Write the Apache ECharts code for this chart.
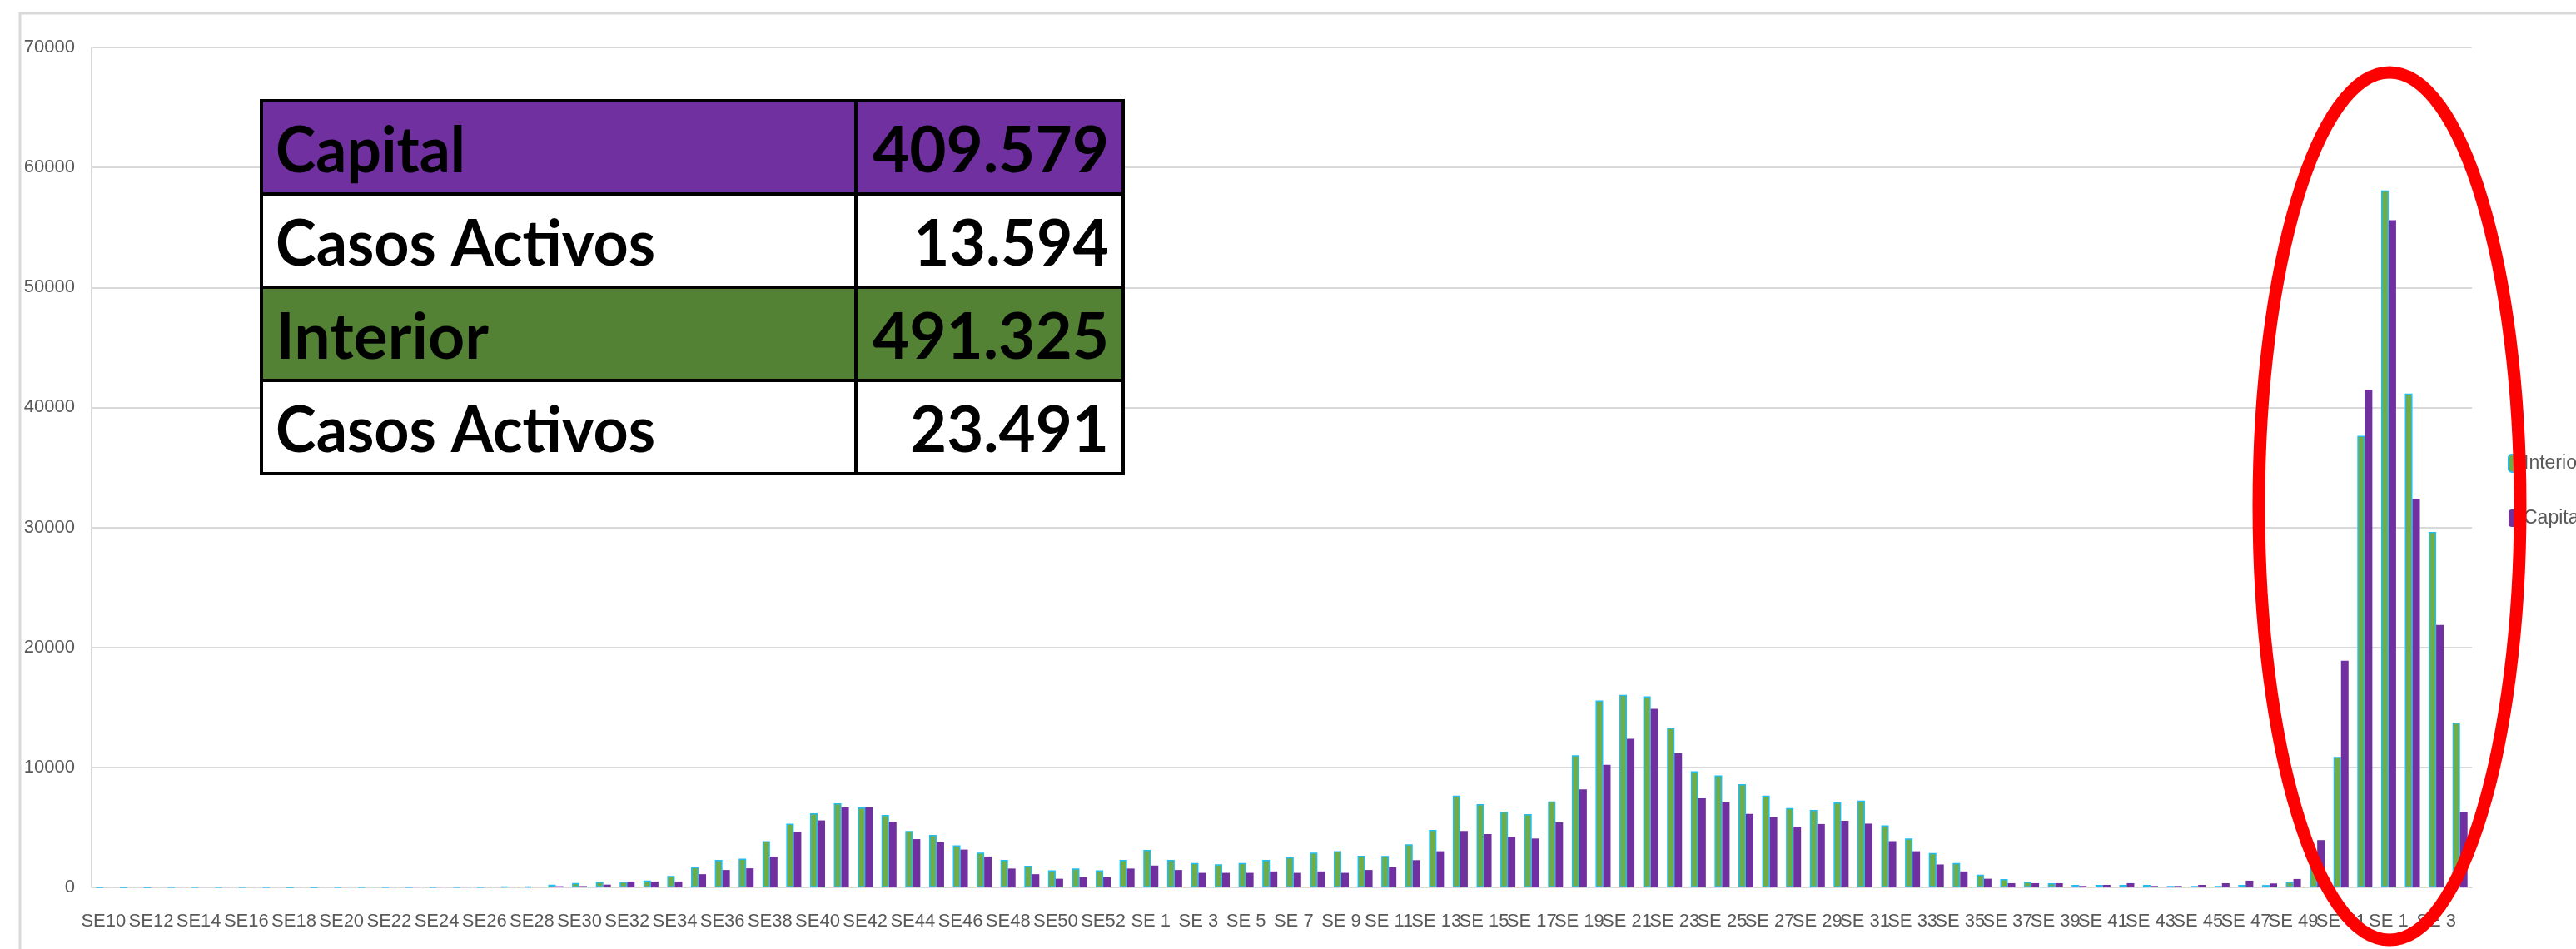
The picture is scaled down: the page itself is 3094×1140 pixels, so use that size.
<!DOCTYPE html>
<html>
<head>
<meta charset="utf-8">
<script src="https://cdn.jsdelivr.net/npm/echarts@6/dist/echarts.min.js"></script>
<style>
html,body{margin:0;padding:0;background:#fff;}
#chart{width:3094px;height:1140px;}
</style>
</head>
<body>
<div id="chart"></div>
<script>
// ---- data ----
const categories = [
  'SE10','SE11','SE12','SE13','SE14','SE15','SE16','SE17','SE18','SE19','SE20','SE21','SE22','SE23','SE24','SE25','SE26','SE27','SE28','SE29','SE30','SE31','SE32','SE33','SE34','SE35','SE36','SE37','SE38','SE39','SE40','SE41','SE42','SE43','SE44','SE45','SE46','SE47','SE48','SE49','SE50','SE51','SE52','SE53',
  'SE 1','SE 2','SE 3','SE 4','SE 5','SE 6','SE 7','SE 8','SE 9','SE 10','SE 11','SE 12','SE 13','SE 14','SE 15','SE 16','SE 17','SE 18','SE 19','SE 20','SE 21','SE 22','SE 23','SE 24','SE 25','SE 26','SE 27','SE 28','SE 29','SE 30','SE 31','SE 32','SE 33','SE 34','SE 35','SE 36','SE 37','SE 38','SE 39','SE 40','SE 41','SE 42','SE 43','SE 44','SE 45','SE 46','SE 47','SE 48','SE 49','SE 50','SE 51','SE 52',
  'SE 1','SE 2','SE 3','SE 4'
];
const interior = [
  5,10,15,20,25,25,20,20,15,15,20,20,25,30,30,30,40,60,80,
  230,370,470,490,580,960,1700,2290,2400,3850,5300,6170,7010,6660,6030,4700,4370,3500,2900,2290,1800,1430,1570,1430,2290,
  3130,2290,2030,1920,2030,2290,2520,2900,3010,2640,2620,3590,4790,7640,6940,6320,6110,7170,11020,15580,16040,15930,13310,9680,9330,8610,7640,6600,6460,7080,7230,5170,4080,2870,2030,1050,700,470,350,210,210,210,210,120,120,120,210,200,460,2700,10870,37630,
  58090,41160,29630,13730
];
const capital = [
  3,5,10,15,15,15,10,10,10,10,15,20,20,30,30,30,30,40,60,
  100,110,230,490,490,490,1100,1450,1590,2570,4600,5580,6680,6660,5470,4020,3760,3150,2570,1570,1100,720,860,860,1570,
  1820,1450,1210,1210,1210,1330,1210,1330,1210,1450,1690,2270,3010,4700,4440,4210,4070,5420,8170,10210,12380,14880,11180,7430,7080,6130,5860,5050,5280,5550,5310,3850,3010,1910,1330,720,350,350,350,120,210,350,120,120,210,350,560,330,700,3940,18880,41490,
  55600,32400,21870,6270
];
const seriesNames = ['Interior', 'Capital'];
const tableLabels = ['Capital', 'Casos Activos', 'Interior', 'Casos Activos'];
const tableValues = ['409.579', '13.594', '491.325', '23.491'];

// ---- layout/style ----
const AXIS_FONT = "'Liberation Sans', Arial, sans-serif";
const TABLE_FONT_FAMILY = "Lato, 'Open Sans', sans-serif";
const TABLE_FONT_SIZE = 76;
const rowTops = [121, 233, 345, 457, 569];
const rowFills = ['#7030A0', '#ffffff', '#548235', '#ffffff'];
const labelTargetW = [228, 456, 256, 456];
const valueTargetW = [284, 235, 284, 239];
const tableLeft = 314, tableRight = 1349, tableMid = 1028;

const mctx = document.createElement('canvas').getContext('2d');
function fitScale(text, target) {
  mctx.font = 'bold ' + TABLE_FONT_SIZE + 'px ' + TABLE_FONT_FAMILY;
  return target / mctx.measureText(text).width;
}

const graphics = [];
graphics.push({
  type: 'polyline', z: -1,
  shape: { points: [[24, 1140], [24, 16], [3094, 16]] },
  style: { stroke: '#d9d9d9', lineWidth: 3, fill: null }
});
for (let r = 0; r < 4; r++) {
  const y0 = rowTops[r], y1 = rowTops[r + 1];
  graphics.push({
    type: 'rect', z: 50,
    shape: { x: tableLeft, y: y0, width: tableMid - tableLeft, height: y1 - y0 },
    style: { fill: rowFills[r], stroke: '#000', lineWidth: 4 }
  });
  graphics.push({
    type: 'rect', z: 50,
    shape: { x: tableMid, y: y0, width: tableRight - tableMid, height: y1 - y0 },
    style: { fill: rowFills[r], stroke: '#000', lineWidth: 4 }
  });
  const cy = (y0 + y1) / 2 + 5;
  graphics.push({
    type: 'text', z: 51, x: 331, y: cy,
    scaleX: fitScale(tableLabels[r], labelTargetW[r]),
    style: {
      text: tableLabels[r], x: 0, y: 0, fill: '#000',
      font: 'bold ' + TABLE_FONT_SIZE + 'px ' + TABLE_FONT_FAMILY,
      textAlign: 'left', textVerticalAlign: 'middle'
    }
  });
  graphics.push({
    type: 'text', z: 51, x: 1332, y: cy,
    scaleX: fitScale(tableValues[r], valueTargetW[r]),
    style: {
      text: tableValues[r], x: 0, y: 0, fill: '#000',
      font: 'bold ' + TABLE_FONT_SIZE + 'px ' + TABLE_FONT_FAMILY,
      textAlign: 'right', textVerticalAlign: 'middle'
    }
  });
}
graphics.push({
  type: 'ellipse', z: 100,
  shape: { cx: 2870, cy: 608, rx: 157, ry: 521 },
  style: { fill: null, stroke: '#ff0000', lineWidth: 15 }
});

const chart = echarts.init(document.getElementById('chart'), null, { renderer: 'canvas' });
chart.setOption({
  animation: false,
  backgroundColor: '#ffffff',
  grid: { left: 110, right: 125, top: 57, bottom: 74, containLabel: false },
  legend: {
    orient: 'vertical', left: 3007, top: 540,
    itemWidth: 16, itemHeight: 21, itemGap: 43,
    data: seriesNames,
    textStyle: { fontSize: 23, color: '#595959', fontFamily: AXIS_FONT, padding: [0, 0, 0, -3] }
  },
  xAxis: {
    type: 'category', data: categories,
    axisTick: { show: false },
    axisLine: { lineStyle: { color: '#d9d9d9', width: 2 } },
    axisLabel: { interval: 1, fontSize: 22, color: '#595959', fontFamily: AXIS_FONT, margin: 30,
      showMinLabel: true, hideOverlap: false }
  },
  yAxis: {
    type: 'value', min: 0, max: 70000, interval: 10000,
    axisLine: { show: true, lineStyle: { color: '#d9d9d9', width: 2 } },
    axisTick: { show: false },
    splitLine: { lineStyle: { color: '#d9d9d9', width: 2 } },
    axisLabel: { fontSize: 22, color: '#595959', fontFamily: AXIS_FONT, margin: 20,
      formatter: function (v) { return String(v); } }
  },
  series: [
    {
      name: seriesNames[0], type: 'bar', data: interior,
      barGap: '0%', barCategoryGap: '37%',
      itemStyle: { color: '#70AD47', borderColor: '#22bdf0', borderWidth: 1.5 }
    },
    {
      name: seriesNames[1], type: 'bar', data: capital,
      barGap: '0%', barCategoryGap: '37%',
      itemStyle: { color: '#7030A0' }
    }
  ],
  graphic: graphics
});
</script>
</body>
</html>
